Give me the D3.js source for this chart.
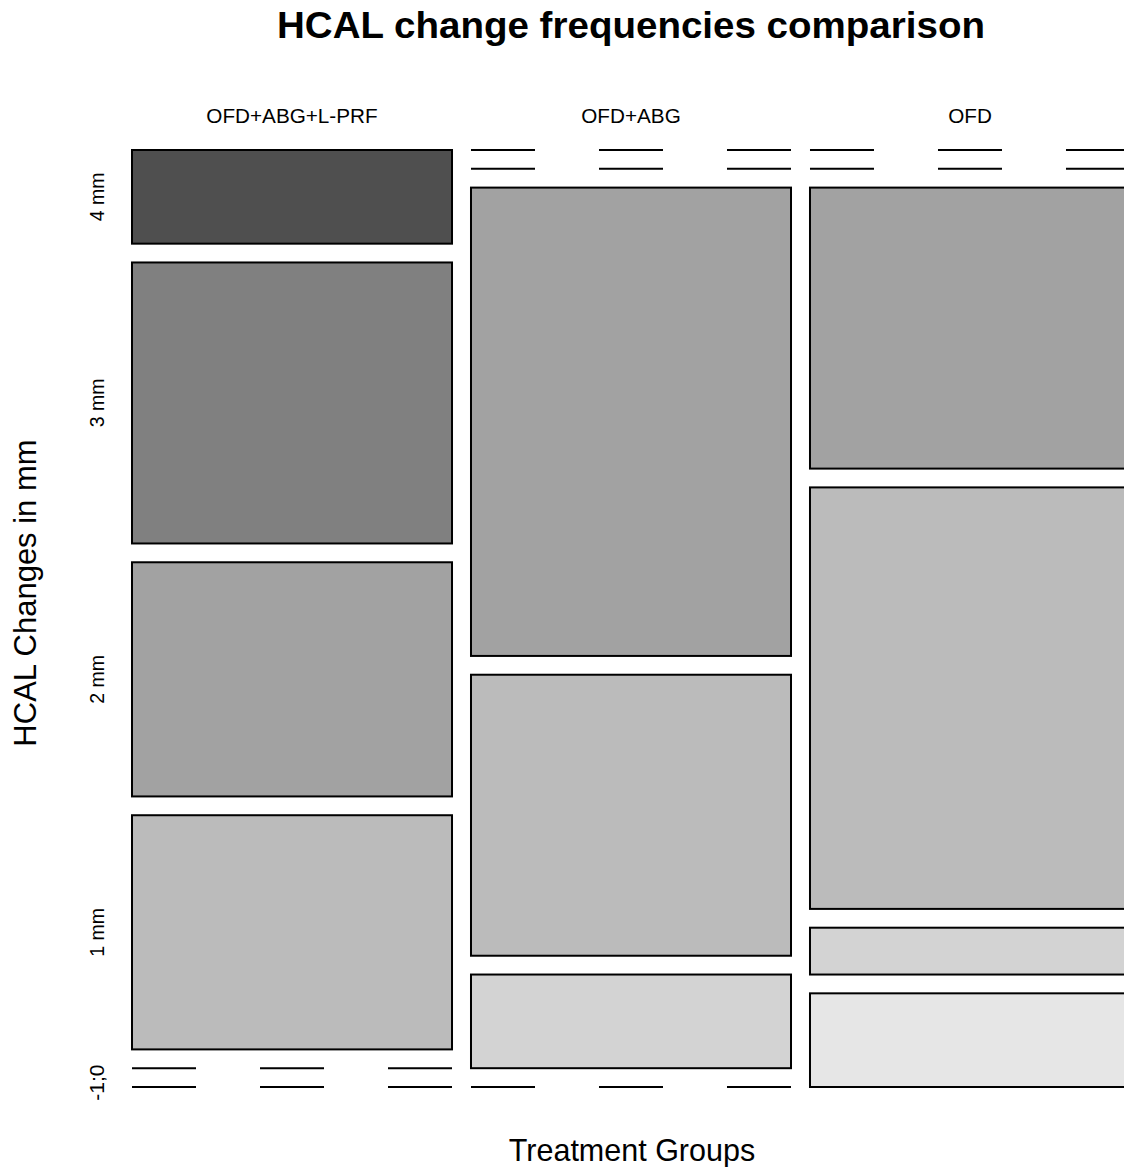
<!DOCTYPE html>
<html>
<head>
<meta charset="utf-8">
<script src="https://cdn.jsdelivr.net/npm/d3@7"></script>
<style>
html,body{margin:0;padding:0;background:#fff;}
svg{display:block;}
text{font-family:"Liberation Sans",Arial,sans-serif;fill:#000;}
</style>
</head>
<body>
<svg id="chart" width="1124" height="1167"></svg>
<script>
// ---- data ----
const groups = ["OFD+ABG+L-PRF", "OFD+ABG", "OFD"];
const levels = ["4 mm", "3 mm", "2 mm", "1 mm", "0", "-1"];
// counts per group, one entry per level (top to bottom)
const countsLPRF = [2, 6, 5, 5, 0, 0];
const countsABG  = [0, 0, 10, 6, 2, 0];
const countsOFD  = [0, 0, 6, 9, 1, 2];
const levelColors = ["#4f4f4f", "#808080", "#a2a2a2", "#bbbbbb", "#d3d3d3", "#e6e6e6"];
const yTickLabels = ["4 mm", "3 mm", "2 mm", "1 mm", "-1;0"];
const title = "HCAL change frequencies comparison";
const xTitle = "Treatment Groups";
const yTitle = "HCAL Changes in mm";

(function () {
const counts = [countsLPRF, countsABG, countsOFD];

const svg = d3.select("#chart");
const plotTop = 150, plotBottom = 1087, plotLeft = 132, plotRight = 1130;
const gap = 18.8;

const x = d3.scaleBand().domain(groups).range([plotLeft, plotRight]).paddingInner(0.056).paddingOuter(0);
const total = d3.sum(countsLPRF);
const h = d3.scaleLinear().domain([0, total]).range([0, (plotBottom - plotTop) - gap * (levels.length - 1)]);

const cells = [];
groups.forEach((g, gi) => {
  let y = plotTop;
  counts[gi].forEach((c, li) => {
    cells.push({group: g, level: levels[li], li, count: c, y0: y, y1: y + h(c)});
    y += h(c) + gap;
  });
});

const boxes = cells.filter(d => d.count > 0);
svg.append("g").selectAll("rect").data(boxes).join("rect")
  .attr("x", d => x(d.group))
  .attr("y", d => d.y0)
  .attr("width", x.bandwidth())
  .attr("height", d => d.y1 - d.y0)
  .attr("fill", d => levelColors[d.li])
  .attr("stroke", "#000")
  .attr("stroke-width", 2);

const zeros = cells.filter(d => d.count === 0);
svg.append("g").selectAll("line").data(zeros).join("line")
  .attr("x1", d => x(d.group))
  .attr("x2", d => x(d.group) + x.bandwidth())
  .attr("y1", d => d.y0)
  .attr("y2", d => d.y0)
  .attr("stroke", "#000")
  .attr("stroke-width", 2)
  .attr("stroke-dasharray", "64,64");

// column labels
svg.append("g").selectAll("text").data(groups).join("text")
  .attr("x", d => x(d) + x.bandwidth() / 2)
  .attr("y", 123)
  .attr("text-anchor", "middle")
  .attr("font-size", 20.7)
  .text(d => d);

// y tick labels from first column
const first = cells.filter(d => d.group === groups[0]);
const tickPos = [
  (first[0].y0 + first[0].y1) / 2,
  (first[1].y0 + first[1].y1) / 2,
  (first[2].y0 + first[2].y1) / 2,
  (first[3].y0 + first[3].y1) / 2,
  (first[4].y0 + first[5].y1) / 2 + 5
];
svg.append("g").selectAll("text").data(yTickLabels).join("text")
  .attr("transform", (d, i) => `translate(104,${tickPos[i]}) rotate(-90)`)
  .attr("text-anchor", "middle")
  .attr("font-size", (d, i) => i === 4 ? 21 : 19.5)
  .text(d => d);

svg.append("text")
  .attr("x", 631).attr("y", 38)
  .attr("text-anchor", "middle")
  .attr("font-size", 37).attr("font-weight", "bold")
  .attr("textLength", 708).attr("lengthAdjust", "spacingAndGlyphs")
  .text(title);

svg.append("text")
  .attr("x", 632).attr("y", 1161)
  .attr("text-anchor", "middle")
  .attr("font-size", 30.5)
  .text(xTitle);

svg.append("text")
  .attr("transform", "translate(36,593) rotate(-90)")
  .attr("text-anchor", "middle")
  .attr("font-size", 31)
  .text(yTitle);
})();
</script>
</body>
</html>
